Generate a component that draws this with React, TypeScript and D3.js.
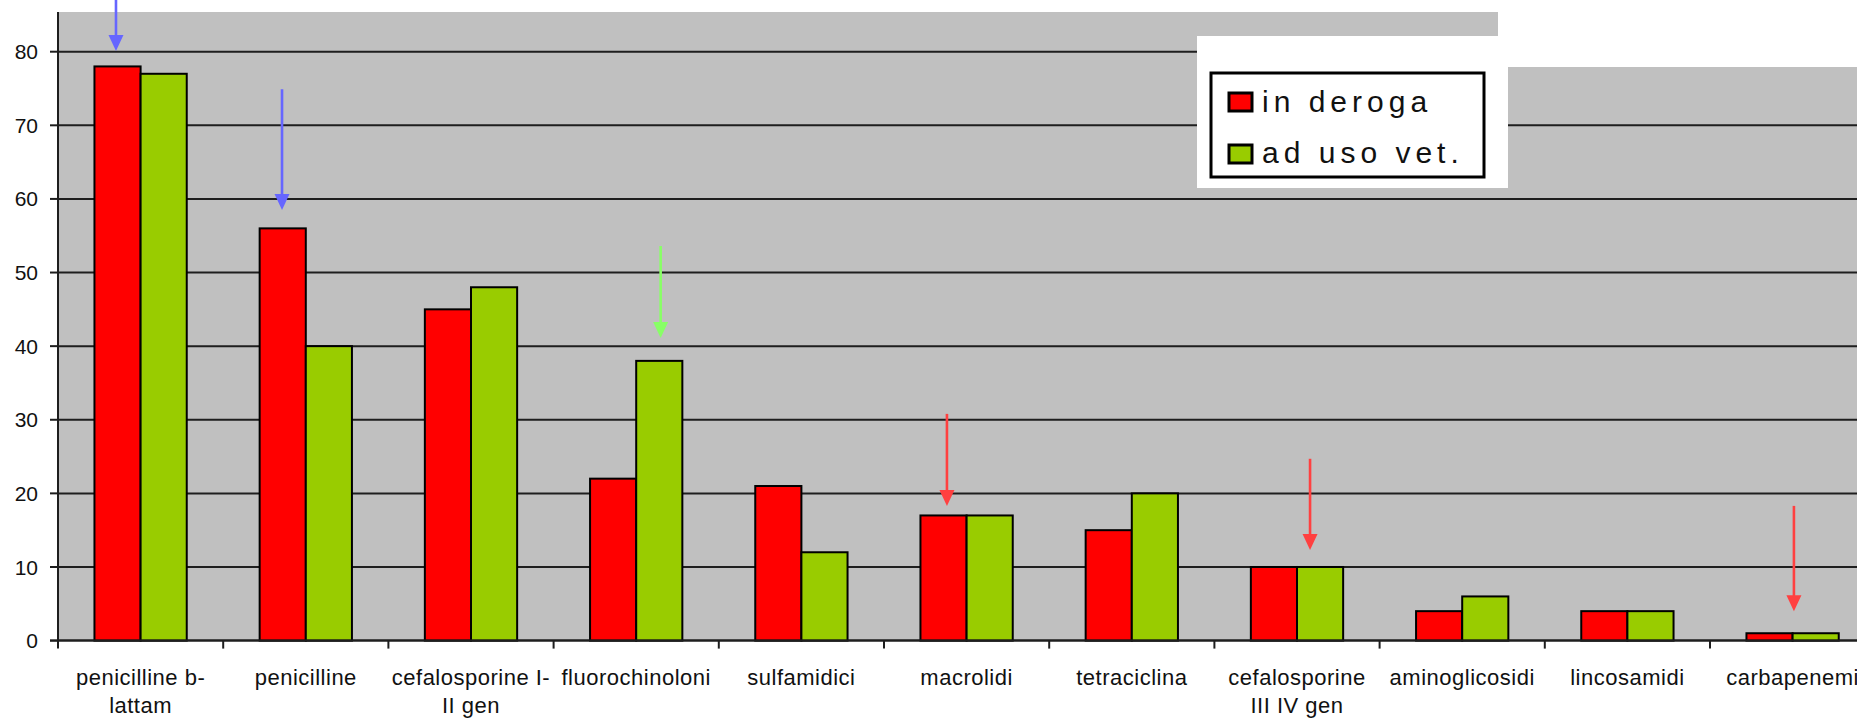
import { useEffect } from 'react';
import * as d3 from 'd3';

// categories, one entry per x band (label lines as shown under the axis)
const categoryLabels: string[][] = [
  ['penicilline b-', 'lattam'],
  ['penicilline'],
  ['cefalosporine I-', 'II gen'],
  ['fluorochinoloni'],
  ['sulfamidici'],
  ['macrolidi'],
  ['tetraciclina'],
  ['cefalosporine', 'III IV gen'],
  ['aminoglicosidi'],
  ['lincosamidi'],
  ['carbapenemi'],
];
const categories = categoryLabels.map((l) => l.join(' '));

const seriesNames = ['in deroga', 'ad uso vet.'];
const seriesColors = ['#FF0000', '#99CC00'];
const inDeroga = [78, 56, 45, 22, 21, 17, 15, 10, 4, 4, 1];
const adUsoVet = [77, 40, 48, 38, 12, 17, 20, 10, 6, 4, 1];
const yTicks = [0, 10, 20, 30, 40, 50, 60, 70, 80];

// hand-drawn arrows: category index, position inside band (0..1), from/to in data units
const arrows = [
  { cat: 0, pos: 0.351, from: 88, to: 80.1, color: '#6666FF' },
  { cat: 1, pos: 0.356, from: 74.9, to: 58.5, color: '#6666FF' },
  { cat: 3, pos: 0.648, from: 53.6, to: 41.1, color: '#88FF66' },
  { cat: 5, pos: 0.381, from: 30.8, to: 18.3, color: '#FF4040' },
  { cat: 7, pos: 0.579, from: 24.7, to: 12.3, color: '#FF4040' },
  { cat: 10, pos: 0.508, from: 18.3, to: 4.0, color: '#FF4040' },
];

const W = 1857;
const H = 721;
const plotLeft = 58;
const plotTop = 12;
const bandW = 165.2;

export default function App() {
  useEffect(() => {
    document.body.style.margin = '0';
  }, []);

  const y = d3.scaleLinear().domain([0, 80]).range([640.6, 51.7]);
  const x = d3
    .scaleBand<string>()
    .domain(categories)
    .range([plotLeft, plotLeft + bandW * categories.length])
    .paddingInner(0)
    .paddingOuter(0);
  const xs = d3
    .scaleBand<string>()
    .domain(seriesNames)
    .range([0, x.bandwidth()])
    .paddingInner(0)
    .paddingOuter(0.79);

  const values = [inDeroga, adUsoVet];
  const y0 = y(0);
  const font = '"Liberation Sans", Arial, sans-serif';

  return (
    <svg width={W} height={H} style={{ display: 'block', background: '#fff' }}>
      {/* plot background */}
      <rect x={plotLeft} y={plotTop} width={W - plotLeft} height={y0 - plotTop} fill="#C0C0C0" />

      {/* gridlines + y ticks */}
      {yTicks.map((t) => (
        <g key={t}>
          <line x1={plotLeft} x2={W} y1={y(t)} y2={y(t)} stroke="#1e1e1e" strokeWidth={2} />
          <line x1={plotLeft - 8} x2={plotLeft} y1={y(t)} y2={y(t)} stroke="#1e1e1e" strokeWidth={2} />
          <text
            x={38}
            y={y(t)}
            dy="0.36em"
            textAnchor="end"
            fontFamily={font}
            fontSize={21}
            fill="#111"
          >
            {t}
          </text>
        </g>
      ))}

      {/* white patches covering top right of plot (pasted legend) */}
      <rect x={1498} y={0} width={W - 1498} height={67} fill="#fff" />
      <rect x={1197} y={36} width={311} height={152} fill="#fff" />

      {/* bars */}
      {categories.map((c, i) => (
        <g key={c}>
          {seriesNames.map((s, k) => {
            const v = values[k][i];
            return (
              <rect
                key={s}
                x={(x(c) ?? 0) + (xs(s) ?? 0)}
                y={y(v)}
                width={xs.bandwidth()}
                height={y0 - y(v)}
                fill={seriesColors[k]}
                stroke="#000"
                strokeWidth={2}
              />
            );
          })}
        </g>
      ))}

      {/* axes */}
      <line x1={plotLeft} x2={plotLeft} y1={plotTop} y2={y0} stroke="#1e1e1e" strokeWidth={2} />
      <line x1={plotLeft - 8} x2={W} y1={y0} y2={y0} stroke="#1e1e1e" strokeWidth={2} />
      {d3.range(categories.length + 1).map((i) => {
        const xx = plotLeft + i * x.step();
        return <line key={i} x1={xx} x2={xx} y1={y0} y2={y0 + 8} stroke="#1e1e1e" strokeWidth={2} />;
      })}

      {/* x labels */}
      {categories.map((c, i) => (
        <text
          key={c}
          x={(x(c) ?? 0) + x.bandwidth() / 2}
          y={685}
          textAnchor="middle"
          fontFamily={font}
          fontSize={22}
          letterSpacing={0.5}
          fill="#111"
        >
          {categoryLabels[i].map((line, j) => (
            <tspan key={j} x={(x(c) ?? 0) + x.bandwidth() / 2} dy={j === 0 ? 0 : 28}>
              {line}
            </tspan>
          ))}
        </text>
      ))}

      {/* arrows */}
      {arrows.map((a, i) => {
        const ax = (x(categories[a.cat]) ?? 0) + a.pos * x.bandwidth();
        const tip = y(a.to);
        return (
          <g key={i}>
            <line x1={ax} x2={ax} y1={y(a.from)} y2={tip - 12} stroke={a.color} strokeWidth={2.6} />
            <path d={`M${ax - 7.5},${tip - 16} L${ax + 7.5},${tip - 16} L${ax},${tip} Z`} fill={a.color} />
          </g>
        );
      })}

      {/* legend */}
      <rect x={1211} y={73} width={273} height={104} fill="#fff" stroke="#000" strokeWidth={3} />
      {seriesNames.map((s, k) => (
        <g key={s}>
          <rect
            x={1229}
            y={93 + k * 52}
            width={23}
            height={18}
            fill={seriesColors[k]}
            stroke="#000"
            strokeWidth={3}
          />
          <text
            x={1262}
            y={112 + k * 51}
            fontFamily={font}
            fontSize={30}
            letterSpacing={5}
            fill="#111"
          >
            {s}
          </text>
        </g>
      ))}
    </svg>
  );
}
